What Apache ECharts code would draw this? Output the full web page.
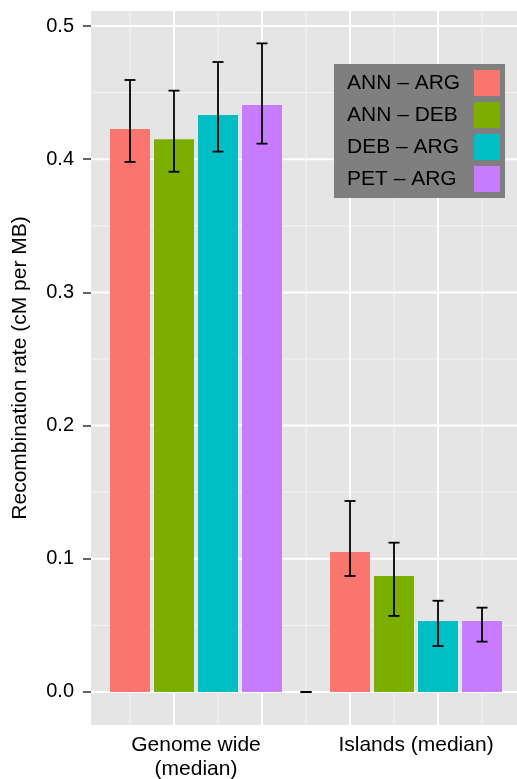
<!DOCTYPE html>
<html>
<head>
<meta charset="utf-8">
<script src="https://cdn.jsdelivr.net/npm/echarts@6/dist/echarts.min.js"></script>
<style>
html,body{margin:0;padding:0;background:#fff;}
#chart{width:517px;height:779px;}
</style>
</head>
<body>
<div id="chart"></div>
<script>
// ---- data ----
const groups = ['Genome wide\n(median)', 'Islands (median)'];
const pairs = ['ANN – ARG', 'ANN – DEB', 'DEB – ARG', 'PET – ARG'];
const colors = ['#F8766D', '#7CAE00', '#00BFC4', '#C77CFF'];
const genomeWide = [0.4227, 0.4150, 0.4332, 0.4407];
const genomeLow = [0.3980, 0.3906, 0.4057, 0.4117];
const genomeHigh = [0.4595, 0.4515, 0.4730, 0.4870];
const islands = [0.1051, 0.0871, 0.0533, 0.0533];
const islandsLow = [0.0871, 0.0571, 0.0345, 0.0378];
const islandsHigh = [0.1434, 0.1121, 0.0685, 0.0633];
const genomePos = [1, 2, 3, 4];
const emptyPos = 5;           // empty slot between groups (zero-height error bar)
const islandsPos = [6, 7, 8, 9];
const groupLabelPos = [2.5, 7.5];
const yTicks = [0, 0.1, 0.2, 0.3, 0.4, 0.5];
const yMinor = [0.05, 0.15, 0.25, 0.35, 0.45];
const xMajor = [2, 4, 6, 8];
const xMinor = [1, 3, 5, 7, 9];

const FONT = 'Liberation Sans, Arial, Helvetica, sans-serif';

const chart = echarts.init(document.getElementById('chart'), null, {renderer: 'canvas'});

const barSeries = pairs.map((p, i) => ({
  name: p,
  type: 'bar',
  barWidth: 40,
  barGap: '-100%',
  z: 3,
  itemStyle: {color: colors[i]},
  data: [[genomePos[i], genomeWide[i]], [islandsPos[i], islands[i]]]
}));

const errData = [];
pairs.forEach((p, i) => {
  errData.push([genomePos[i], genomeLow[i], genomeHigh[i]]);
  errData.push([islandsPos[i], islandsLow[i], islandsHigh[i]]);
});
errData.push([emptyPos, 0, 0]);

const hGrid = yTicks.map(v => [v, 1]).concat(yMinor.map(v => [v, 0]));
const vGrid = xMajor.map(v => [v, 1]).concat(xMinor.map(v => [v, 0]));

const gridLine = (major) => ({
  stroke: major ? '#FFFFFF' : '#F4F4F4',
  lineWidth: major ? 2 : 1
});

chart.setOption({
  backgroundColor: '#ffffff',
  animation: false,
  textStyle: {fontFamily: FONT},
  grid: {
    left: 91, right: 0, top: 11, bottom: 54,
    outerBoundsMode: 'none',
    containLabel: false,
    show: true, backgroundColor: '#E5E5E5', borderWidth: 0
  },
  legend: {
    data: pairs,
    orient: 'vertical',
    left: 334, top: 64,
    backgroundColor: '#7F7F7F',
    padding: [6, 5, 6, 13],
    itemWidth: 26, itemHeight: 26, itemGap: 6,
    icon: 'rect',
    align: 'right',
    formatter: n => '{a|' + n + '}',
    textStyle: {
      fontFamily: FONT, fontSize: 21, color: '#000',
      rich: {a: {width: 122, align: 'left', fontSize: 21, fontFamily: FONT, color: '#000'}}
    }
  },
  xAxis: {
    type: 'value',
    min: 0.1136, max: 9.795,
    splitLine: {show: false},
    axisLine: {show: false},
    axisTick: {show: false},
    axisLabel: {
      customValues: groupLabelPos,
      formatter: v => (v < emptyPos ? groups[0] : groups[1]),
      fontSize: 21, lineHeight: 24, color: '#000', fontFamily: FONT, margin: 8
    }
  },
  yAxis: {
    type: 'value',
    min: -0.0248, max: 0.5113,
    splitLine: {show: false},
    axisLine: {show: false},
    axisTick: {show: true, customValues: yTicks, length: 8, lineStyle: {color: '#333', width: 1.5}},
    axisLabel: {
      customValues: yTicks,
      formatter: v => v.toFixed(1),
      fontSize: 20, color: '#000', fontFamily: FONT, margin: 17
    },
    name: 'Recombination rate (cM per MB)',
    nameLocation: 'middle',
    nameGap: 60,
    nameTextStyle: {fontSize: 21, color: '#000', fontFamily: FONT}
  },
  series: [
    {
      type: 'custom', name: 'hgrid', z: 1, silent: true,
      data: hGrid,
      encode: {y: 0},
      renderItem: (params, api) => {
        const cs = params.coordSys;
        const y = api.coord([1, api.value(0)])[1];
        return {type: 'line', shape: {x1: cs.x, y1: y, x2: cs.x + cs.width, y2: y}, style: gridLine(api.value(1) === 1)};
      }
    },
    {
      type: 'custom', name: 'vgrid', z: 1, silent: true,
      data: vGrid,
      encode: {x: 0},
      renderItem: (params, api) => {
        const cs = params.coordSys;
        const x = api.coord([api.value(0), 0])[0];
        return {type: 'line', shape: {x1: x, y1: cs.y, x2: x, y2: cs.y + cs.height}, style: gridLine(api.value(1) === 1)};
      }
    },
    ...barSeries,
    {
      type: 'custom', name: 'err', z: 5, silent: true,
      data: errData,
      encode: {x: 0, y: [1, 2]},
      renderItem: (params, api) => {
        const lo = api.coord([api.value(0), api.value(1)]);
        const hi = api.coord([api.value(0), api.value(2)]);
        const hw = 5.5;
        const st = {stroke: '#000', lineWidth: 1.8};
        return {
          type: 'group',
          children: [
            {type: 'line', shape: {x1: lo[0], y1: lo[1], x2: hi[0], y2: hi[1]}, style: st},
            {type: 'line', shape: {x1: lo[0] - hw, y1: lo[1], x2: lo[0] + hw, y2: lo[1]}, style: st},
            {type: 'line', shape: {x1: hi[0] - hw, y1: hi[1], x2: hi[0] + hw, y2: hi[1]}, style: st}
          ]
        };
      }
    }
  ]
});
</script>
</body>
</html>
